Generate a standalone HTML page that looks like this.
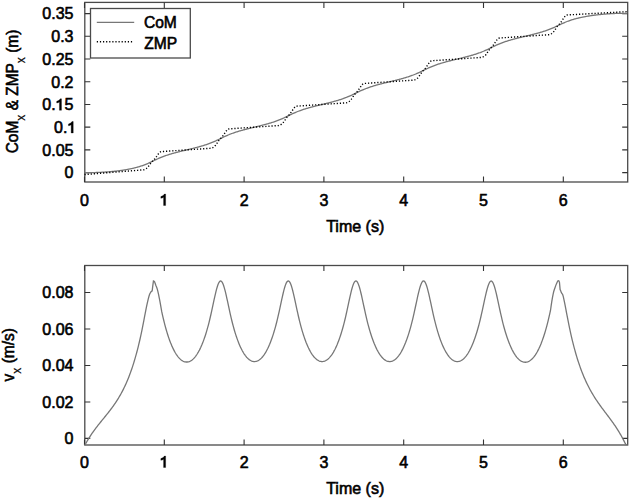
<!DOCTYPE html>
<html><head><meta charset="utf-8"><style>html,body{margin:0;padding:0;background:#fff;overflow:hidden}svg{display:block}</style></head>
<body><svg width="630" height="500" viewBox="0 0 630 500">
<rect width="630" height="500" fill="#fff"/>
<rect x="84.8" y="2.4" width="542.9000000000001" height="179.6" fill="none" stroke="#4a4a4a" stroke-width="1.3"/>
<rect x="84.8" y="265.5" width="542.9000000000001" height="179.5" fill="none" stroke="#4a4a4a" stroke-width="1.3"/>
<path d="M84.50,182.0v-5.5M84.50,2.4v5.5M84.50,445.0v-5.5M84.50,265.5v5.5M164.30,182.0v-5.5M164.30,2.4v5.5M164.30,445.0v-5.5M164.30,265.5v5.5M244.10,182.0v-5.5M244.10,2.4v5.5M244.10,445.0v-5.5M244.10,265.5v5.5M323.90,182.0v-5.5M323.90,2.4v5.5M323.90,445.0v-5.5M323.90,265.5v5.5M403.70,182.0v-5.5M403.70,2.4v5.5M403.70,445.0v-5.5M403.70,265.5v5.5M483.50,182.0v-5.5M483.50,2.4v5.5M483.50,445.0v-5.5M483.50,265.5v5.5M563.30,182.0v-5.5M563.30,2.4v5.5M563.30,445.0v-5.5M563.30,265.5v5.5M84.8,172.60h5.5M627.7,172.60h-5.5M84.8,149.88h5.5M627.7,149.88h-5.5M84.8,127.17h5.5M627.7,127.17h-5.5M84.8,104.45h5.5M627.7,104.45h-5.5M84.8,81.74h5.5M627.7,81.74h-5.5M84.8,59.02h5.5M627.7,59.02h-5.5M84.8,36.31h5.5M627.7,36.31h-5.5M84.8,13.59h5.5M627.7,13.59h-5.5M84.8,438.40h5.5M627.7,438.40h-5.5M84.8,401.93h5.5M627.7,401.93h-5.5M84.8,365.46h5.5M627.7,365.46h-5.5M84.8,328.99h5.5M627.7,328.99h-5.5M84.8,292.52h5.5M627.7,292.52h-5.5" stroke="#333" stroke-width="1.1" fill="none"/>
<path d="M84.50,172.57 L85.14,172.58 L85.78,172.59 L86.42,172.60 L87.05,172.61 L87.69,172.62 L88.33,172.62 L88.97,172.62 L89.61,172.62 L90.25,172.62 L90.88,172.61 L91.52,172.61 L92.16,172.60 L92.80,172.59 L93.44,172.58 L94.08,172.56 L94.71,172.54 L95.35,172.53 L95.99,172.51 L96.63,172.49 L97.27,172.46 L97.91,172.44 L98.54,172.41 L99.18,172.39 L99.82,172.36 L100.46,172.33 L101.10,172.29 L101.74,172.26 L102.38,172.22 L103.01,172.19 L103.65,172.15 L104.29,172.11 L104.93,172.06 L105.57,172.02 L106.21,171.98 L106.84,171.93 L107.48,171.88 L108.12,171.83 L108.76,171.78 L109.40,171.73 L110.04,171.67 L110.67,171.61 L111.31,171.56 L111.95,171.50 L112.59,171.43 L113.23,171.37 L113.87,171.31 L114.50,171.24 L115.14,171.17 L115.78,171.10 L116.42,171.03 L117.06,170.95 L117.70,170.87 L118.34,170.79 L118.97,170.71 L119.61,170.63 L120.25,170.55 L120.89,170.46 L121.53,170.37 L122.17,170.28 L122.80,170.18 L123.44,170.08 L124.08,169.98 L124.72,169.88 L125.36,169.78 L126.00,169.67 L126.63,169.56 L127.27,169.44 L127.91,169.33 L128.55,169.21 L129.19,169.08 L129.83,168.96 L130.46,168.83 L131.10,168.69 L131.74,168.56 L132.38,168.42 L133.02,168.27 L133.66,168.12 L134.30,167.97 L134.93,167.81 L135.57,167.65 L136.21,167.49 L136.85,167.31 L137.49,167.14 L138.13,166.96 L138.76,166.77 L139.40,166.58 L140.04,166.38 L140.68,166.18 L141.32,165.97 L141.96,165.76 L142.59,165.54 L143.23,165.31 L143.87,165.08 L144.51,164.84 L145.15,164.59 L145.79,164.34 L146.42,164.08 L147.06,163.81 L147.70,163.53 L148.34,163.25 L148.98,162.97 L149.62,162.68 L150.26,162.38 L150.89,162.08 L151.53,161.77 L152.17,161.47 L152.81,161.16 L153.45,160.85 L154.09,160.54 L154.72,160.23 L155.36,159.93 L156.00,159.62 L156.64,159.33 L157.28,159.03 L157.92,158.74 L158.55,158.45 L159.19,158.17 L159.83,157.90 L160.47,157.63 L161.11,157.37 L161.75,157.11 L162.38,156.86 L163.02,156.61 L163.66,156.37 L164.30,156.14 L164.94,155.91 L165.58,155.68 L166.22,155.46 L166.85,155.25 L167.49,155.03 L168.13,154.83 L168.77,154.62 L169.41,154.42 L170.05,154.23 L170.68,154.03 L171.32,153.84 L171.96,153.66 L172.60,153.47 L173.24,153.29 L173.88,153.12 L174.51,152.94 L175.15,152.77 L175.79,152.60 L176.43,152.43 L177.07,152.26 L177.71,152.09 L178.34,151.93 L178.98,151.77 L179.62,151.61 L180.26,151.45 L180.90,151.29 L181.54,151.13 L182.18,150.98 L182.81,150.82 L183.45,150.67 L184.09,150.51 L184.73,150.36 L185.37,150.20 L186.01,150.05 L186.64,149.90 L187.28,149.75 L187.92,149.59 L188.56,149.44 L189.20,149.28 L189.84,149.13 L190.47,148.98 L191.11,148.82 L191.75,148.66 L192.39,148.51 L193.03,148.35 L193.67,148.19 L194.30,148.03 L194.94,147.87 L195.58,147.70 L196.22,147.54 L196.86,147.37 L197.50,147.20 L198.14,147.03 L198.77,146.86 L199.41,146.68 L200.05,146.50 L200.69,146.32 L201.33,146.14 L201.97,145.95 L202.60,145.76 L203.24,145.57 L203.88,145.37 L204.52,145.17 L205.16,144.97 L205.80,144.76 L206.43,144.55 L207.07,144.33 L207.71,144.11 L208.35,143.89 L208.99,143.66 L209.63,143.42 L210.26,143.18 L210.90,142.94 L211.54,142.69 L212.18,142.43 L212.82,142.16 L213.46,141.89 L214.10,141.62 L214.73,141.34 L215.37,141.05 L216.01,140.76 L216.65,140.46 L217.29,140.16 L217.93,139.85 L218.56,139.54 L219.20,139.23 L219.84,138.91 L220.48,138.60 L221.12,138.28 L221.76,137.97 L222.39,137.65 L223.03,137.34 L223.67,137.03 L224.31,136.73 L224.95,136.43 L225.59,136.13 L226.22,135.84 L226.86,135.56 L227.50,135.28 L228.14,135.01 L228.78,134.74 L229.42,134.48 L230.06,134.23 L230.69,133.98 L231.33,133.73 L231.97,133.50 L232.61,133.26 L233.25,133.04 L233.89,132.81 L234.52,132.60 L235.16,132.38 L235.80,132.17 L236.44,131.97 L237.08,131.76 L237.72,131.57 L238.35,131.37 L238.99,131.18 L239.63,130.99 L240.27,130.81 L240.91,130.62 L241.55,130.44 L242.18,130.27 L242.82,130.09 L243.46,129.92 L244.10,129.75 L244.74,129.58 L245.38,129.41 L246.02,129.25 L246.65,129.08 L247.29,128.92 L247.93,128.76 L248.57,128.60 L249.21,128.44 L249.85,128.29 L250.48,128.13 L251.12,127.97 L251.76,127.82 L252.40,127.66 L253.04,127.51 L253.68,127.35 L254.31,127.20 L254.95,127.05 L255.59,126.89 L256.23,126.74 L256.87,126.58 L257.51,126.43 L258.14,126.27 L258.78,126.12 L259.42,125.96 L260.06,125.80 L260.70,125.64 L261.34,125.48 L261.98,125.32 L262.61,125.16 L263.25,124.99 L263.89,124.83 L264.53,124.66 L265.17,124.49 L265.81,124.32 L266.44,124.14 L267.08,123.97 L267.72,123.79 L268.36,123.61 L269.00,123.42 L269.64,123.24 L270.27,123.05 L270.91,122.85 L271.55,122.66 L272.19,122.46 L272.83,122.25 L273.47,122.04 L274.10,121.83 L274.74,121.61 L275.38,121.39 L276.02,121.17 L276.66,120.94 L277.30,120.70 L277.94,120.46 L278.57,120.21 L279.21,119.96 L279.85,119.70 L280.49,119.44 L281.13,119.17 L281.77,118.89 L282.40,118.61 L283.04,118.32 L283.68,118.03 L284.32,117.73 L284.96,117.43 L285.60,117.12 L286.23,116.81 L286.87,116.50 L287.51,116.18 L288.15,115.87 L288.79,115.55 L289.43,115.24 L290.06,114.92 L290.70,114.61 L291.34,114.30 L291.98,114.00 L292.62,113.70 L293.26,113.40 L293.90,113.11 L294.53,112.83 L295.17,112.55 L295.81,112.28 L296.45,112.01 L297.09,111.75 L297.73,111.50 L298.36,111.25 L299.00,111.01 L299.64,110.77 L300.28,110.54 L300.92,110.31 L301.56,110.09 L302.19,109.87 L302.83,109.66 L303.47,109.45 L304.11,109.24 L304.75,109.04 L305.39,108.84 L306.02,108.65 L306.66,108.45 L307.30,108.27 L307.94,108.08 L308.58,107.90 L309.22,107.72 L309.86,107.54 L310.49,107.37 L311.13,107.19 L311.77,107.02 L312.41,106.85 L313.05,106.69 L313.69,106.52 L314.32,106.36 L314.96,106.20 L315.60,106.04 L316.24,105.88 L316.88,105.72 L317.52,105.56 L318.15,105.41 L318.79,105.25 L319.43,105.09 L320.07,104.94 L320.71,104.79 L321.35,104.63 L321.98,104.48 L322.62,104.32 L323.26,104.17 L323.90,104.01 L324.54,103.86 L325.18,103.70 L325.82,103.55 L326.45,103.39 L327.09,103.24 L327.73,103.08 L328.37,102.92 L329.01,102.76 L329.65,102.60 L330.28,102.43 L330.92,102.27 L331.56,102.10 L332.20,101.94 L332.84,101.77 L333.48,101.59 L334.11,101.42 L334.75,101.24 L335.39,101.06 L336.03,100.88 L336.67,100.70 L337.31,100.51 L337.94,100.32 L338.58,100.13 L339.22,99.93 L339.86,99.73 L340.50,99.52 L341.14,99.31 L341.78,99.10 L342.41,98.89 L343.05,98.66 L343.69,98.44 L344.33,98.21 L344.97,97.97 L345.61,97.73 L346.24,97.48 L346.88,97.23 L347.52,96.97 L348.16,96.71 L348.80,96.44 L349.44,96.16 L350.07,95.88 L350.71,95.59 L351.35,95.30 L351.99,95.00 L352.63,94.70 L353.27,94.39 L353.90,94.08 L354.54,93.76 L355.18,93.45 L355.82,93.13 L356.46,92.82 L357.10,92.50 L357.74,92.19 L358.37,91.88 L359.01,91.57 L359.65,91.26 L360.29,90.96 L360.93,90.67 L361.57,90.38 L362.20,90.10 L362.84,89.82 L363.48,89.55 L364.12,89.28 L364.76,89.02 L365.40,88.77 L366.03,88.52 L366.67,88.28 L367.31,88.04 L367.95,87.81 L368.59,87.58 L369.23,87.36 L369.86,87.14 L370.50,86.93 L371.14,86.72 L371.78,86.51 L372.42,86.31 L373.06,86.11 L373.70,85.92 L374.33,85.73 L374.97,85.54 L375.61,85.35 L376.25,85.17 L376.89,84.99 L377.53,84.82 L378.16,84.64 L378.80,84.47 L379.44,84.30 L380.08,84.13 L380.72,83.96 L381.36,83.80 L381.99,83.63 L382.63,83.47 L383.27,83.31 L383.91,83.15 L384.55,82.99 L385.19,82.84 L385.82,82.68 L386.46,82.52 L387.10,82.37 L387.74,82.21 L388.38,82.06 L389.02,81.91 L389.66,81.75 L390.29,81.60 L390.93,81.44 L391.57,81.29 L392.21,81.14 L392.85,80.98 L393.49,80.82 L394.12,80.67 L394.76,80.51 L395.40,80.35 L396.04,80.19 L396.68,80.03 L397.32,79.87 L397.95,79.71 L398.59,79.54 L399.23,79.38 L399.87,79.21 L400.51,79.04 L401.15,78.87 L401.78,78.69 L402.42,78.52 L403.06,78.34 L403.70,78.16 L404.34,77.97 L404.98,77.78 L405.62,77.59 L406.25,77.40 L406.89,77.20 L407.53,77.00 L408.17,76.80 L408.81,76.59 L409.45,76.37 L410.08,76.16 L410.72,75.94 L411.36,75.71 L412.00,75.48 L412.64,75.24 L413.28,75.00 L413.91,74.75 L414.55,74.50 L415.19,74.24 L415.83,73.98 L416.47,73.71 L417.11,73.43 L417.74,73.15 L418.38,72.86 L419.02,72.56 L419.66,72.26 L420.30,71.96 L420.94,71.65 L421.58,71.34 L422.21,71.03 L422.85,70.71 L423.49,70.40 L424.13,70.08 L424.77,69.77 L425.41,69.45 L426.04,69.14 L426.68,68.83 L427.32,68.53 L427.96,68.23 L428.60,67.94 L429.24,67.65 L429.87,67.36 L430.51,67.09 L431.15,66.82 L431.79,66.55 L432.43,66.29 L433.07,66.04 L433.70,65.79 L434.34,65.55 L434.98,65.31 L435.62,65.08 L436.26,64.85 L436.90,64.63 L437.54,64.41 L438.17,64.20 L438.81,63.99 L439.45,63.79 L440.09,63.58 L440.73,63.39 L441.37,63.19 L442.00,63.00 L442.64,62.81 L443.28,62.63 L443.92,62.45 L444.56,62.27 L445.20,62.09 L445.83,61.92 L446.47,61.74 L447.11,61.57 L447.75,61.40 L448.39,61.24 L449.03,61.07 L449.66,60.91 L450.30,60.75 L450.94,60.59 L451.58,60.43 L452.22,60.27 L452.86,60.11 L453.50,59.96 L454.13,59.80 L454.77,59.65 L455.41,59.49 L456.05,59.34 L456.69,59.18 L457.33,59.03 L457.96,58.87 L458.60,58.72 L459.24,58.57 L459.88,58.41 L460.52,58.26 L461.16,58.10 L461.79,57.94 L462.43,57.79 L463.07,57.63 L463.71,57.47 L464.35,57.31 L464.99,57.15 L465.62,56.98 L466.26,56.82 L466.90,56.65 L467.54,56.49 L468.18,56.32 L468.82,56.14 L469.46,55.97 L470.09,55.79 L470.73,55.61 L471.37,55.43 L472.01,55.25 L472.65,55.06 L473.29,54.87 L473.92,54.67 L474.56,54.48 L475.20,54.28 L475.84,54.07 L476.48,53.86 L477.12,53.65 L477.75,53.43 L478.39,53.21 L479.03,52.98 L479.67,52.75 L480.31,52.52 L480.95,52.27 L481.58,52.03 L482.22,51.77 L482.86,51.51 L483.50,51.25 L484.14,50.98 L484.78,50.70 L485.42,50.42 L486.05,50.13 L486.69,49.84 L487.33,49.54 L487.97,49.23 L488.61,48.93 L489.25,48.61 L489.88,48.30 L490.52,47.99 L491.16,47.67 L491.80,47.35 L492.44,47.04 L493.08,46.73 L493.71,46.42 L494.35,46.11 L494.99,45.80 L495.63,45.51 L496.27,45.21 L496.91,44.92 L497.54,44.64 L498.18,44.36 L498.82,44.09 L499.46,43.83 L500.10,43.57 L500.74,43.32 L501.38,43.07 L502.01,42.83 L502.65,42.59 L503.29,42.36 L503.93,42.14 L504.57,41.91 L505.21,41.70 L505.84,41.49 L506.48,41.28 L507.12,41.07 L507.76,40.87 L508.40,40.68 L509.04,40.48 L509.67,40.29 L510.31,40.10 L510.95,39.92 L511.59,39.74 L512.23,39.56 L512.87,39.38 L513.50,39.21 L514.14,39.04 L514.78,38.87 L515.42,38.70 L516.06,38.54 L516.70,38.37 L517.34,38.21 L517.97,38.05 L518.61,37.89 L519.25,37.73 L519.89,37.58 L520.53,37.42 L521.17,37.26 L521.80,37.11 L522.44,36.96 L523.08,36.80 L523.72,36.65 L524.36,36.50 L525.00,36.34 L525.63,36.19 L526.27,36.04 L526.91,35.89 L527.55,35.73 L528.19,35.58 L528.83,35.42 L529.46,35.27 L530.10,35.11 L530.74,34.96 L531.38,34.80 L532.02,34.64 L532.66,34.48 L533.30,34.32 L533.93,34.16 L534.57,33.99 L535.21,33.83 L535.85,33.66 L536.49,33.49 L537.13,33.32 L537.76,33.14 L538.40,32.97 L539.04,32.79 L539.68,32.61 L540.32,32.42 L540.96,32.23 L541.59,32.04 L542.23,31.85 L542.87,31.65 L543.51,31.45 L544.15,31.24 L544.79,31.03 L545.42,30.82 L546.06,30.60 L546.70,30.38 L547.34,30.15 L547.98,29.92 L548.62,29.68 L549.26,29.44 L549.89,29.19 L550.53,28.94 L551.17,28.68 L551.81,28.41 L552.45,28.14 L553.09,27.86 L553.72,27.58 L554.36,27.29 L555.00,27.00 L555.64,26.70 L556.28,26.40 L556.92,26.10 L557.55,25.79 L558.19,25.49 L558.83,25.18 L559.47,24.87 L560.11,24.57 L560.75,24.26 L561.38,23.96 L562.02,23.67 L562.66,23.37 L563.30,23.09 L563.94,22.81 L564.58,22.53 L565.22,22.26 L565.85,22.00 L566.49,21.74 L567.13,21.49 L567.77,21.25 L568.41,21.02 L569.05,20.79 L569.68,20.56 L570.32,20.35 L570.96,20.14 L571.60,19.93 L572.24,19.73 L572.88,19.54 L573.51,19.35 L574.15,19.16 L574.79,18.98 L575.43,18.81 L576.07,18.64 L576.71,18.47 L577.34,18.31 L577.98,18.15 L578.62,18.00 L579.26,17.85 L579.90,17.70 L580.54,17.56 L581.18,17.42 L581.81,17.28 L582.45,17.15 L583.09,17.02 L583.73,16.90 L584.37,16.78 L585.01,16.66 L585.64,16.54 L586.28,16.43 L586.92,16.31 L587.56,16.21 L588.20,16.10 L588.84,16.00 L589.47,15.90 L590.11,15.80 L590.75,15.70 L591.39,15.61 L592.03,15.52 L592.67,15.43 L593.30,15.34 L593.94,15.25 L594.58,15.17 L595.22,15.09 L595.86,15.01 L596.50,14.93 L597.14,14.86 L597.77,14.79 L598.41,14.71 L599.05,14.64 L599.69,14.58 L600.33,14.51 L600.97,14.45 L601.60,14.38 L602.24,14.32 L602.88,14.27 L603.52,14.21 L604.16,14.15 L604.80,14.10 L605.43,14.05 L606.07,14.00 L606.71,13.95 L607.35,13.90 L607.99,13.86 L608.63,13.81 L609.26,13.77 L609.90,13.73 L610.54,13.69 L611.18,13.66 L611.82,13.62 L612.46,13.59 L613.10,13.56 L613.73,13.53 L614.37,13.50 L615.01,13.47 L615.65,13.45 L616.29,13.43 L616.93,13.41 L617.56,13.39 L618.20,13.38 L618.84,13.36 L619.48,13.35 L620.12,13.34 L620.76,13.33 L621.39,13.33 L622.03,13.32 L622.67,13.32 L623.31,13.33 L623.95,13.33 L624.59,13.34 L625.22,13.35 L625.86,13.36 L626.50,13.37 L627.14,13.39 L627.38,13.40" stroke="#777" stroke-width="1.3" fill="none"/>
<path d="M84.50,174.55 L85.14,174.50 L85.78,174.45 L86.42,174.39 L87.05,174.34 L87.69,174.29 L88.33,174.24 L88.97,174.19 L89.61,174.14 L90.25,174.09 L90.88,174.04 L91.52,173.99 L92.16,173.94 L92.80,173.89 L93.44,173.84 L94.08,173.78 L94.71,173.73 L95.35,173.68 L95.99,173.63 L96.63,173.58 L97.27,173.53 L97.91,173.48 L98.54,173.43 L99.18,173.38 L99.82,173.33 L100.46,173.28 L101.10,173.23 L101.74,173.17 L102.38,173.12 L103.01,173.07 L103.65,173.02 L104.29,172.97 L104.93,172.92 L105.57,172.87 L106.21,172.82 L106.84,172.77 L107.48,172.72 L108.12,172.67 L108.76,172.62 L109.40,172.56 L110.04,172.51 L110.67,172.46 L111.31,172.41 L111.95,172.36 L112.59,172.31 L113.23,172.26 L113.87,172.21 L114.50,172.16 L115.14,172.11 L115.78,172.06 L116.42,172.01 L117.06,171.95 L117.70,171.90 L118.34,171.85 L118.97,171.80 L119.61,171.75 L120.25,171.70 L120.89,171.65 L121.53,171.60 L122.17,171.55 L122.80,171.50 L123.44,171.45 L124.08,171.39 L124.72,171.34 L125.36,171.29 L126.00,171.24 L126.63,171.19 L127.27,171.14 L127.91,171.09 L128.55,171.04 L129.19,170.99 L129.83,170.94 L130.46,170.89 L131.10,170.84 L131.74,170.78 L132.38,170.73 L133.02,170.68 L133.66,170.63 L134.30,170.58 L134.93,170.53 L135.57,170.48 L136.21,170.43 L136.85,170.38 L137.49,170.33 L138.13,170.28 L138.76,170.23 L139.40,170.17 L140.04,170.12 L140.68,170.07 L141.32,170.02 L141.96,169.97 L142.59,169.92 L143.23,169.86 L143.87,169.74 L144.51,169.54 L145.15,169.26 L145.79,168.90 L146.42,168.48 L147.06,168.00 L147.70,167.35 L148.34,166.53 L148.98,165.63 L149.62,164.76 L150.26,163.87 L150.89,162.96 L151.53,162.11 L152.17,161.40 L152.81,160.80 L153.45,160.23 L154.09,159.60 L154.72,158.85 L155.36,158.03 L156.00,157.17 L156.64,156.31 L157.28,155.38 L157.92,154.45 L158.55,153.63 L159.19,152.84 L159.83,152.20 L160.47,151.88 L161.11,151.67 L161.75,151.54 L162.38,151.50 L163.02,151.48 L163.66,151.44 L164.30,151.39 L164.94,151.35 L165.58,151.31 L166.22,151.27 L166.85,151.22 L167.49,151.18 L168.13,151.14 L168.77,151.10 L169.41,151.05 L170.05,151.01 L170.68,150.97 L171.32,150.92 L171.96,150.88 L172.60,150.84 L173.24,150.80 L173.88,150.75 L174.51,150.71 L175.15,150.67 L175.79,150.62 L176.43,150.58 L177.07,150.54 L177.71,150.50 L178.34,150.45 L178.98,150.41 L179.62,150.37 L180.26,150.32 L180.90,150.28 L181.54,150.24 L182.18,150.20 L182.81,150.15 L183.45,150.11 L184.09,150.07 L184.73,150.02 L185.37,149.98 L186.01,149.94 L186.64,149.90 L187.28,149.85 L187.92,149.81 L188.56,149.77 L189.20,149.73 L189.84,149.68 L190.47,149.64 L191.11,149.60 L191.75,149.55 L192.39,149.51 L193.03,149.47 L193.67,149.43 L194.30,149.38 L194.94,149.34 L195.58,149.30 L196.22,149.25 L196.86,149.21 L197.50,149.17 L198.14,149.13 L198.77,149.08 L199.41,149.04 L200.05,149.00 L200.69,148.95 L201.33,148.91 L201.97,148.87 L202.60,148.83 L203.24,148.78 L203.88,148.74 L204.52,148.70 L205.16,148.66 L205.80,148.61 L206.43,148.57 L207.07,148.53 L207.71,148.48 L208.35,148.44 L208.99,148.40 L209.63,148.36 L210.26,148.31 L210.90,148.25 L211.54,148.12 L212.18,147.91 L212.82,147.60 L213.46,147.21 L214.10,146.76 L214.73,146.25 L215.37,145.55 L216.01,144.66 L216.65,143.71 L217.29,142.80 L217.93,141.85 L218.56,140.88 L219.20,139.98 L219.84,139.24 L220.48,138.61 L221.12,138.01 L221.76,137.33 L222.39,136.53 L223.03,135.66 L223.67,134.75 L224.31,133.82 L224.95,132.84 L225.59,131.86 L226.22,130.99 L226.86,130.16 L227.50,129.49 L228.14,129.18 L228.78,128.96 L229.42,128.83 L230.06,128.78 L230.69,128.76 L231.33,128.72 L231.97,128.68 L232.61,128.63 L233.25,128.59 L233.89,128.55 L234.52,128.51 L235.16,128.46 L235.80,128.42 L236.44,128.38 L237.08,128.33 L237.72,128.29 L238.35,128.25 L238.99,128.21 L239.63,128.16 L240.27,128.12 L240.91,128.08 L241.55,128.04 L242.18,127.99 L242.82,127.95 L243.46,127.91 L244.10,127.86 L244.74,127.82 L245.38,127.78 L246.02,127.74 L246.65,127.69 L247.29,127.65 L247.93,127.61 L248.57,127.56 L249.21,127.52 L249.85,127.48 L250.48,127.44 L251.12,127.39 L251.76,127.35 L252.40,127.31 L253.04,127.26 L253.68,127.22 L254.31,127.18 L254.95,127.14 L255.59,127.09 L256.23,127.05 L256.87,127.01 L257.51,126.96 L258.14,126.92 L258.78,126.88 L259.42,126.84 L260.06,126.79 L260.70,126.75 L261.34,126.71 L261.98,126.67 L262.61,126.62 L263.25,126.58 L263.89,126.54 L264.53,126.49 L265.17,126.45 L265.81,126.41 L266.44,126.37 L267.08,126.32 L267.72,126.28 L268.36,126.24 L269.00,126.19 L269.64,126.15 L270.27,126.11 L270.91,126.07 L271.55,126.02 L272.19,125.98 L272.83,125.94 L273.47,125.89 L274.10,125.85 L274.74,125.81 L275.38,125.77 L276.02,125.72 L276.66,125.68 L277.30,125.64 L277.94,125.59 L278.57,125.53 L279.21,125.39 L279.85,125.17 L280.49,124.86 L281.13,124.47 L281.77,124.01 L282.40,123.50 L283.04,122.78 L283.68,121.89 L284.32,120.94 L284.96,120.03 L285.60,119.07 L286.23,118.10 L286.87,117.22 L287.51,116.48 L288.15,115.86 L288.79,115.25 L289.43,114.56 L290.06,113.76 L290.70,112.88 L291.34,111.97 L291.98,111.05 L292.62,110.06 L293.26,109.08 L293.90,108.22 L294.53,107.39 L295.17,106.75 L295.81,106.44 L296.45,106.23 L297.09,106.11 L297.73,106.07 L298.36,106.05 L299.00,106.00 L299.64,105.96 L300.28,105.92 L300.92,105.87 L301.56,105.83 L302.19,105.79 L302.83,105.75 L303.47,105.70 L304.11,105.66 L304.75,105.62 L305.39,105.57 L306.02,105.53 L306.66,105.49 L307.30,105.45 L307.94,105.40 L308.58,105.36 L309.22,105.32 L309.86,105.27 L310.49,105.23 L311.13,105.19 L311.77,105.15 L312.41,105.10 L313.05,105.06 L313.69,105.02 L314.32,104.97 L314.96,104.93 L315.60,104.89 L316.24,104.85 L316.88,104.80 L317.52,104.76 L318.15,104.72 L318.79,104.68 L319.43,104.63 L320.07,104.59 L320.71,104.55 L321.35,104.50 L321.98,104.46 L322.62,104.42 L323.26,104.38 L323.90,104.33 L324.54,104.29 L325.18,104.25 L325.82,104.20 L326.45,104.16 L327.09,104.12 L327.73,104.08 L328.37,104.03 L329.01,103.99 L329.65,103.95 L330.28,103.90 L330.92,103.86 L331.56,103.82 L332.20,103.78 L332.84,103.73 L333.48,103.69 L334.11,103.65 L334.75,103.60 L335.39,103.56 L336.03,103.52 L336.67,103.48 L337.31,103.43 L337.94,103.39 L338.58,103.35 L339.22,103.31 L339.86,103.26 L340.50,103.22 L341.14,103.18 L341.78,103.13 L342.41,103.09 L343.05,103.05 L343.69,103.01 L344.33,102.96 L344.97,102.92 L345.61,102.88 L346.24,102.81 L346.88,102.67 L347.52,102.44 L348.16,102.13 L348.80,101.73 L349.44,101.27 L350.07,100.74 L350.71,100.01 L351.35,99.12 L351.99,98.16 L352.63,97.25 L353.27,96.29 L353.90,95.33 L354.54,94.45 L355.18,93.73 L355.82,93.11 L356.46,92.50 L357.10,91.80 L357.74,90.99 L358.37,90.11 L359.01,89.20 L359.65,88.27 L360.29,87.28 L360.93,86.31 L361.57,85.46 L362.20,84.63 L362.84,84.01 L363.48,83.71 L364.12,83.50 L364.76,83.39 L365.40,83.35 L366.03,83.33 L366.67,83.28 L367.31,83.24 L367.95,83.20 L368.59,83.16 L369.23,83.11 L369.86,83.07 L370.50,83.03 L371.14,82.98 L371.78,82.94 L372.42,82.90 L373.06,82.86 L373.70,82.81 L374.33,82.77 L374.97,82.73 L375.61,82.69 L376.25,82.64 L376.89,82.60 L377.53,82.56 L378.16,82.51 L378.80,82.47 L379.44,82.43 L380.08,82.39 L380.72,82.34 L381.36,82.30 L381.99,82.26 L382.63,82.21 L383.27,82.17 L383.91,82.13 L384.55,82.09 L385.19,82.04 L385.82,82.00 L386.46,81.96 L387.10,81.91 L387.74,81.87 L388.38,81.83 L389.02,81.79 L389.66,81.74 L390.29,81.70 L390.93,81.66 L391.57,81.62 L392.21,81.57 L392.85,81.53 L393.49,81.49 L394.12,81.44 L394.76,81.40 L395.40,81.36 L396.04,81.32 L396.68,81.27 L397.32,81.23 L397.95,81.19 L398.59,81.14 L399.23,81.10 L399.87,81.06 L400.51,81.02 L401.15,80.97 L401.78,80.93 L402.42,80.89 L403.06,80.84 L403.70,80.80 L404.34,80.76 L404.98,80.72 L405.62,80.67 L406.25,80.63 L406.89,80.59 L407.53,80.54 L408.17,80.50 L408.81,80.46 L409.45,80.42 L410.08,80.37 L410.72,80.33 L411.36,80.29 L412.00,80.25 L412.64,80.20 L413.28,80.16 L413.91,80.09 L414.55,79.94 L415.19,79.71 L415.83,79.39 L416.47,78.99 L417.11,78.52 L417.74,77.99 L418.38,77.25 L419.02,76.34 L419.66,75.39 L420.30,74.48 L420.94,73.52 L421.58,72.56 L422.21,71.69 L422.85,70.97 L423.49,70.36 L424.13,69.74 L424.77,69.04 L425.41,68.22 L426.04,67.34 L426.68,66.43 L427.32,65.50 L427.96,64.50 L428.60,63.54 L429.24,62.69 L429.87,61.87 L430.51,61.27 L431.15,60.98 L431.79,60.78 L432.43,60.67 L433.07,60.63 L433.70,60.61 L434.34,60.57 L434.98,60.52 L435.62,60.48 L436.26,60.44 L436.90,60.40 L437.54,60.35 L438.17,60.31 L438.81,60.27 L439.45,60.22 L440.09,60.18 L440.73,60.14 L441.37,60.10 L442.00,60.05 L442.64,60.01 L443.28,59.97 L443.92,59.92 L444.56,59.88 L445.20,59.84 L445.83,59.80 L446.47,59.75 L447.11,59.71 L447.75,59.67 L448.39,59.63 L449.03,59.58 L449.66,59.54 L450.30,59.50 L450.94,59.45 L451.58,59.41 L452.22,59.37 L452.86,59.33 L453.50,59.28 L454.13,59.24 L454.77,59.20 L455.41,59.15 L456.05,59.11 L456.69,59.07 L457.33,59.03 L457.96,58.98 L458.60,58.94 L459.24,58.90 L459.88,58.85 L460.52,58.81 L461.16,58.77 L461.79,58.73 L462.43,58.68 L463.07,58.64 L463.71,58.60 L464.35,58.55 L464.99,58.51 L465.62,58.47 L466.26,58.43 L466.90,58.38 L467.54,58.34 L468.18,58.30 L468.82,58.26 L469.46,58.21 L470.09,58.17 L470.73,58.13 L471.37,58.08 L472.01,58.04 L472.65,58.00 L473.29,57.96 L473.92,57.91 L474.56,57.87 L475.20,57.83 L475.84,57.78 L476.48,57.74 L477.12,57.70 L477.75,57.66 L478.39,57.61 L479.03,57.57 L479.67,57.53 L480.31,57.48 L480.95,57.44 L481.58,57.37 L482.22,57.21 L482.86,56.98 L483.50,56.65 L484.14,56.25 L484.78,55.78 L485.42,55.24 L486.05,54.48 L486.69,53.57 L487.33,52.62 L487.97,51.71 L488.61,50.74 L489.25,49.78 L489.88,48.92 L490.52,48.22 L491.16,47.60 L491.80,46.99 L492.44,46.28 L493.08,45.46 L493.71,44.57 L494.35,43.66 L494.99,42.72 L495.63,41.73 L496.27,40.77 L496.91,39.92 L497.54,39.10 L498.18,38.53 L498.82,38.25 L499.46,38.05 L500.10,37.95 L500.74,37.92 L501.38,37.89 L502.01,37.85 L502.65,37.81 L503.29,37.76 L503.93,37.72 L504.57,37.68 L505.21,37.64 L505.84,37.59 L506.48,37.55 L507.12,37.51 L507.76,37.46 L508.40,37.42 L509.04,37.38 L509.67,37.34 L510.31,37.29 L510.95,37.25 L511.59,37.21 L512.23,37.16 L512.87,37.12 L513.50,37.08 L514.14,37.04 L514.78,36.99 L515.42,36.95 L516.06,36.91 L516.70,36.86 L517.34,36.82 L517.97,36.78 L518.61,36.74 L519.25,36.69 L519.89,36.65 L520.53,36.61 L521.17,36.56 L521.80,36.52 L522.44,36.48 L523.08,36.44 L523.72,36.39 L524.36,36.35 L525.00,36.31 L525.63,36.27 L526.27,36.22 L526.91,36.18 L527.55,36.14 L528.19,36.09 L528.83,36.05 L529.46,36.01 L530.10,35.97 L530.74,35.92 L531.38,35.88 L532.02,35.84 L532.66,35.79 L533.30,35.75 L533.93,35.71 L534.57,35.67 L535.21,35.62 L535.85,35.58 L536.49,35.54 L537.13,35.49 L537.76,35.45 L538.40,35.41 L539.04,35.37 L539.68,35.32 L540.32,35.28 L540.96,35.24 L541.59,35.20 L542.23,35.15 L542.87,35.11 L543.51,35.07 L544.15,35.02 L544.79,34.98 L545.42,34.94 L546.06,34.90 L546.70,34.85 L547.34,34.81 L547.98,34.77 L548.62,34.72 L549.26,34.64 L549.89,34.48 L550.53,34.24 L551.17,33.90 L551.81,33.48 L552.45,33.00 L553.09,32.44 L553.72,31.66 L554.36,30.73 L555.00,29.76 L555.64,28.84 L556.28,27.85 L556.92,26.88 L557.55,26.02 L558.19,25.31 L558.83,24.69 L559.47,24.06 L560.11,23.33 L560.75,22.49 L561.38,21.58 L562.02,20.66 L562.66,19.70 L563.30,18.69 L563.94,17.72 L564.58,16.86 L565.22,16.04 L565.85,15.48 L566.49,15.21 L567.13,15.01 L567.77,14.91 L568.41,14.88 L569.05,14.85 L569.68,14.82 L570.32,14.78 L570.96,14.75 L571.60,14.71 L572.24,14.68 L572.88,14.64 L573.51,14.60 L574.15,14.57 L574.79,14.53 L575.43,14.50 L576.07,14.46 L576.71,14.43 L577.34,14.39 L577.98,14.36 L578.62,14.32 L579.26,14.28 L579.90,14.25 L580.54,14.21 L581.18,14.18 L581.81,14.14 L582.45,14.11 L583.09,14.07 L583.73,14.04 L584.37,14.00 L585.01,13.96 L585.64,13.93 L586.28,13.89 L586.92,13.86 L587.56,13.82 L588.20,13.79 L588.84,13.75 L589.47,13.72 L590.11,13.68 L590.75,13.64 L591.39,13.61 L592.03,13.57 L592.67,13.54 L593.30,13.50 L593.94,13.47 L594.58,13.43 L595.22,13.40 L595.86,13.36 L596.50,13.32 L597.14,13.29 L597.77,13.25 L598.41,13.22 L599.05,13.18 L599.69,13.15 L600.33,13.11 L600.97,13.08 L601.60,13.04 L602.24,13.00 L602.88,12.97 L603.52,12.93 L604.16,12.90 L604.80,12.86 L605.43,12.83 L606.07,12.79 L606.71,12.76 L607.35,12.72 L607.99,12.68 L608.63,12.65 L609.26,12.61 L609.90,12.58 L610.54,12.54 L611.18,12.51 L611.82,12.47 L612.46,12.44 L613.10,12.40 L613.73,12.36 L614.37,12.33 L615.01,12.29 L615.65,12.26 L616.29,12.22 L616.93,12.19 L617.56,12.15 L618.20,12.12 L618.84,12.08 L619.48,12.04 L620.12,12.01 L620.76,11.97 L621.39,11.94 L622.03,11.90 L622.67,11.87 L623.31,11.83 L623.95,11.80 L624.59,11.76 L625.22,11.72 L625.86,11.69 L626.50,11.65 L627.14,11.62 L627.38,11.60" stroke="#000" stroke-width="1.4" stroke-dasharray="1.2 1.9" fill="none"/>
<path d="M84.50,444.60 L85.14,444.60 L85.78,443.53 L86.42,442.39 L87.05,441.28 L87.69,440.19 L88.33,439.13 L88.97,438.10 L89.61,437.08 L90.25,436.09 L90.88,435.12 L91.52,434.17 L92.16,433.23 L92.80,432.32 L93.44,431.42 L94.08,430.53 L94.71,429.66 L95.35,428.80 L95.99,427.95 L96.63,427.11 L97.27,426.28 L97.91,425.46 L98.54,424.65 L99.18,423.85 L99.82,423.05 L100.46,422.26 L101.10,421.47 L101.74,420.68 L102.38,419.90 L103.01,419.11 L103.65,418.33 L104.29,417.55 L104.93,416.77 L105.57,415.98 L106.21,415.19 L106.84,414.40 L107.48,413.60 L108.12,412.80 L108.76,411.99 L109.40,411.17 L110.04,410.34 L110.67,409.50 L111.31,408.66 L111.95,407.80 L112.59,406.92 L113.23,406.04 L113.87,405.14 L114.50,404.22 L115.14,403.29 L115.78,402.34 L116.42,401.37 L117.06,400.38 L117.70,399.37 L118.34,398.33 L118.97,397.28 L119.61,396.19 L120.25,395.08 L120.89,393.95 L121.53,392.78 L122.17,391.59 L122.80,390.36 L123.44,389.10 L124.08,387.81 L124.72,386.48 L125.36,385.11 L126.00,383.71 L126.63,382.26 L127.27,380.77 L127.91,379.24 L128.55,377.66 L129.19,376.03 L129.83,374.35 L130.46,372.63 L131.10,370.84 L131.74,369.01 L132.38,367.11 L133.02,365.16 L133.66,363.14 L134.30,361.06 L134.93,358.91 L135.57,356.69 L136.21,354.40 L136.85,352.03 L137.49,349.59 L138.13,347.07 L138.76,344.46 L139.40,341.77 L140.04,338.99 L140.68,336.11 L141.32,333.13 L141.96,330.05 L142.59,326.88 L143.23,323.63 L143.87,320.30 L144.51,316.92 L145.15,313.57 L145.79,310.31 L146.42,307.16 L147.06,304.15 L147.70,301.31 L148.34,298.67 L148.98,296.28 L149.62,294.34 L150.26,292.97 L150.89,291.98 L151.53,291.32 L152.17,290.93 L152.81,285.68 L153.45,280.94 L154.09,281.25 L154.72,282.14 L155.36,284.11 L156.00,285.73 L156.64,287.25 L157.28,289.16 L157.92,291.63 L158.55,294.44 L159.19,297.55 L159.83,300.91 L160.47,304.48 L161.11,308.23 L161.75,311.72 L162.38,314.56 L163.02,317.33 L163.66,320.02 L164.30,322.61 L164.94,325.10 L165.58,327.47 L166.22,329.74 L166.85,331.90 L167.49,333.98 L168.13,335.97 L168.77,337.86 L169.41,339.68 L170.05,341.41 L170.68,343.06 L171.32,344.62 L171.96,346.12 L172.60,347.53 L173.24,348.87 L173.88,350.14 L174.51,351.34 L175.15,352.47 L175.79,353.53 L176.43,354.53 L177.07,355.45 L177.71,356.32 L178.34,357.12 L178.98,357.85 L179.62,358.53 L180.26,359.14 L180.90,359.69 L181.54,360.18 L182.18,360.62 L182.81,360.99 L183.45,361.31 L184.09,361.56 L184.73,361.76 L185.37,361.91 L186.01,361.99 L186.64,362.02 L187.28,361.99 L187.92,361.90 L188.56,361.76 L189.20,361.56 L189.84,361.30 L190.47,360.98 L191.11,360.61 L191.75,360.17 L192.39,359.68 L193.03,359.12 L193.67,358.51 L194.30,357.84 L194.94,357.10 L195.58,356.30 L196.22,355.43 L196.86,354.50 L197.50,353.51 L198.14,352.45 L198.77,351.31 L199.41,350.11 L200.05,348.84 L200.69,347.50 L201.33,346.08 L201.97,344.59 L202.60,343.02 L203.24,341.37 L203.88,339.63 L204.52,337.82 L205.16,335.92 L205.80,333.93 L206.43,331.85 L207.07,329.68 L207.71,327.42 L208.35,325.05 L208.99,322.56 L209.63,319.97 L210.26,317.27 L210.90,314.48 L211.54,311.60 L212.18,308.67 L212.82,305.69 L213.46,302.70 L214.10,299.73 L214.73,296.82 L215.37,294.02 L216.01,291.37 L216.65,288.92 L217.29,286.72 L217.93,284.82 L218.56,283.27 L219.20,282.10 L219.84,281.34 L220.48,281.01 L221.12,281.12 L221.76,281.67 L222.39,282.65 L223.03,284.02 L223.67,285.75 L224.31,287.81 L224.95,290.14 L225.59,292.70 L226.22,295.43 L226.86,298.29 L227.50,301.23 L228.14,304.20 L228.78,307.18 L229.42,310.14 L230.06,313.04 L230.69,315.87 L231.33,318.61 L231.97,321.25 L232.61,323.78 L233.25,326.19 L233.89,328.50 L234.52,330.71 L235.16,332.82 L235.80,334.84 L236.44,336.78 L237.08,338.63 L237.72,340.39 L238.35,342.07 L238.99,343.67 L239.63,345.20 L240.27,346.64 L240.91,348.01 L241.55,349.31 L242.18,350.53 L242.82,351.69 L243.46,352.77 L244.10,353.79 L244.74,354.74 L245.38,355.62 L246.02,356.44 L246.65,357.20 L247.29,357.89 L247.93,358.53 L248.57,359.10 L249.21,359.61 L249.85,360.06 L250.48,360.45 L251.12,360.78 L251.76,361.05 L252.40,361.26 L253.04,361.42 L253.68,361.52 L254.31,361.56 L254.95,361.54 L255.59,361.47 L256.23,361.33 L256.87,361.14 L257.51,360.89 L258.14,360.58 L258.78,360.22 L259.42,359.79 L260.06,359.31 L260.70,358.76 L261.34,358.15 L261.98,357.48 L262.61,356.75 L263.25,355.96 L263.89,355.10 L264.53,354.17 L265.17,353.18 L265.81,352.13 L266.44,351.00 L267.08,349.80 L267.72,348.54 L268.36,347.19 L269.00,345.78 L269.64,344.29 L270.27,342.72 L270.91,341.07 L271.55,339.34 L272.19,337.52 L272.83,335.62 L273.47,333.64 L274.10,331.56 L274.74,329.39 L275.38,327.12 L276.02,324.75 L276.66,322.27 L277.30,319.67 L277.94,316.97 L278.57,314.17 L279.21,311.30 L279.85,308.36 L280.49,305.39 L281.13,302.40 L281.77,299.44 L282.40,296.54 L283.04,293.75 L283.68,291.11 L284.32,288.68 L284.96,286.50 L285.60,284.63 L286.23,283.10 L286.87,281.95 L287.51,281.22 L288.15,280.93 L288.79,281.07 L289.43,281.65 L290.06,282.65 L290.70,284.05 L291.34,285.81 L291.98,287.89 L292.62,290.24 L293.26,292.81 L293.90,295.55 L294.53,298.42 L295.17,301.36 L295.81,304.34 L296.45,307.32 L297.09,310.27 L297.73,313.17 L298.36,316.00 L299.00,318.73 L299.64,321.37 L300.28,323.89 L300.92,326.30 L301.56,328.60 L302.19,330.81 L302.83,332.92 L303.47,334.93 L304.11,336.86 L304.75,338.71 L305.39,340.47 L306.02,342.15 L306.66,343.74 L307.30,345.26 L307.94,346.70 L308.58,348.07 L309.22,349.36 L309.86,350.58 L310.49,351.73 L311.13,352.82 L311.77,353.83 L312.41,354.78 L313.05,355.66 L313.69,356.47 L314.32,357.23 L314.96,357.92 L315.60,358.55 L316.24,359.11 L316.88,359.62 L317.52,360.07 L318.15,360.45 L318.79,360.78 L319.43,361.05 L320.07,361.26 L320.71,361.41 L321.35,361.51 L321.98,361.55 L322.62,361.53 L323.26,361.45 L323.90,361.31 L324.54,361.12 L325.18,360.86 L325.82,360.55 L326.45,360.18 L327.09,359.75 L327.73,359.26 L328.37,358.71 L329.01,358.10 L329.65,357.43 L330.28,356.70 L330.92,355.90 L331.56,355.04 L332.20,354.11 L332.84,353.11 L333.48,352.05 L334.11,350.92 L334.75,349.72 L335.39,348.45 L336.03,347.10 L336.67,345.68 L337.31,344.19 L337.94,342.61 L338.58,340.96 L339.22,339.22 L339.86,337.40 L340.50,335.50 L341.14,333.50 L341.78,331.42 L342.41,329.25 L343.05,326.97 L343.69,324.60 L344.33,322.10 L344.97,319.50 L345.61,316.79 L346.24,313.99 L346.88,311.11 L347.52,308.17 L348.16,305.20 L348.80,302.21 L349.44,299.25 L350.07,296.36 L350.71,293.58 L351.35,290.95 L351.99,288.54 L352.63,286.38 L353.27,284.52 L353.90,283.01 L354.54,281.89 L355.18,281.19 L355.82,280.92 L356.46,281.09 L357.10,281.70 L357.74,282.73 L358.37,284.15 L359.01,285.93 L359.65,288.03 L360.29,290.39 L360.93,292.97 L361.57,295.72 L362.20,298.60 L362.84,301.54 L363.48,304.53 L364.12,307.51 L364.76,310.46 L365.40,313.35 L366.03,316.17 L366.67,318.90 L367.31,321.53 L367.95,324.04 L368.59,326.45 L369.23,328.74 L369.86,330.94 L370.50,333.04 L371.14,335.06 L371.78,336.98 L372.42,338.82 L373.06,340.57 L373.70,342.25 L374.33,343.84 L374.97,345.35 L375.61,346.79 L376.25,348.15 L376.89,349.44 L377.53,350.66 L378.16,351.80 L378.80,352.88 L379.44,353.89 L380.08,354.83 L380.72,355.71 L381.36,356.52 L381.99,357.27 L382.63,357.96 L383.27,358.58 L383.91,359.15 L384.55,359.65 L385.19,360.09 L385.82,360.47 L386.46,360.80 L387.10,361.06 L387.74,361.27 L388.38,361.42 L389.02,361.51 L389.66,361.55 L390.29,361.52 L390.93,361.44 L391.57,361.30 L392.21,361.10 L392.85,360.85 L393.49,360.53 L394.12,360.16 L394.76,359.73 L395.40,359.23 L396.04,358.68 L396.68,358.06 L397.32,357.39 L397.95,356.65 L398.59,355.85 L399.23,354.98 L399.87,354.05 L400.51,353.05 L401.15,351.98 L401.78,350.85 L402.42,349.64 L403.06,348.37 L403.70,347.02 L404.34,345.59 L404.98,344.09 L405.62,342.51 L406.25,340.85 L406.89,339.11 L407.53,337.29 L408.17,335.38 L408.81,333.38 L409.45,331.29 L410.08,329.11 L410.72,326.83 L411.36,324.44 L412.00,321.94 L412.64,319.33 L413.28,316.62 L413.91,313.82 L414.55,310.93 L415.19,307.99 L415.83,305.01 L416.47,302.03 L417.11,299.07 L417.74,296.19 L418.38,293.41 L419.02,290.80 L419.66,288.39 L420.30,286.25 L420.94,284.42 L421.58,282.93 L422.21,281.84 L422.85,281.16 L423.49,280.92 L424.13,281.12 L424.77,281.75 L425.41,282.81 L426.04,284.25 L426.68,286.06 L427.32,288.17 L427.96,290.55 L428.60,293.14 L429.24,295.90 L429.87,298.78 L430.51,301.73 L431.15,304.72 L431.79,307.70 L432.43,310.64 L433.07,313.53 L433.70,316.35 L434.34,319.07 L434.98,321.69 L435.62,324.20 L436.26,326.60 L436.90,328.89 L437.54,331.08 L438.17,333.18 L438.81,335.19 L439.45,337.11 L440.09,338.94 L440.73,340.69 L441.37,342.36 L442.00,343.94 L442.64,345.45 L443.28,346.88 L443.92,348.24 L444.56,349.53 L445.20,350.74 L445.83,351.88 L446.47,352.96 L447.11,353.96 L447.75,354.90 L448.39,355.77 L449.03,356.58 L449.66,357.33 L450.30,358.01 L450.94,358.63 L451.58,359.19 L452.22,359.69 L452.86,360.13 L453.50,360.51 L454.13,360.83 L454.77,361.10 L455.41,361.30 L456.05,361.45 L456.69,361.53 L457.33,361.56 L457.96,361.54 L458.60,361.45 L459.24,361.31 L459.88,361.11 L460.52,360.85 L461.16,360.53 L461.79,360.16 L462.43,359.72 L463.07,359.22 L463.71,358.67 L464.35,358.05 L464.99,357.37 L465.62,356.63 L466.26,355.82 L466.90,354.95 L467.54,354.02 L468.18,353.02 L468.82,351.95 L469.46,350.81 L470.09,349.60 L470.73,348.32 L471.37,346.97 L472.01,345.54 L472.65,344.04 L473.29,342.45 L473.92,340.79 L474.56,339.05 L475.20,337.22 L475.84,335.30 L476.48,333.30 L477.12,331.21 L477.75,329.02 L478.39,326.74 L479.03,324.35 L479.67,321.84 L480.31,319.23 L480.95,316.51 L481.58,313.70 L482.22,310.82 L482.86,307.88 L483.50,304.90 L484.14,301.92 L484.78,298.97 L485.42,296.09 L486.05,293.33 L486.69,290.73 L487.33,288.34 L487.97,286.22 L488.61,284.41 L489.25,282.95 L489.88,281.89 L490.52,281.24 L491.16,281.03 L491.80,281.26 L492.44,281.93 L493.08,283.01 L493.71,284.48 L494.35,286.31 L494.99,288.45 L495.63,290.84 L496.27,293.46 L496.91,296.23 L497.54,299.12 L498.18,302.08 L498.82,305.07 L499.46,308.05 L500.10,311.00 L500.74,313.90 L501.38,316.71 L502.01,319.43 L502.65,322.05 L503.29,324.57 L503.93,326.96 L504.57,329.25 L505.21,331.45 L505.84,333.55 L506.48,335.56 L507.12,337.48 L507.76,339.32 L508.40,341.07 L509.04,342.74 L509.67,344.34 L510.31,345.85 L510.95,347.29 L511.59,348.65 L512.23,349.94 L512.87,351.16 L513.50,352.31 L514.14,353.39 L514.78,354.41 L515.42,355.36 L516.06,356.24 L516.70,357.06 L517.34,357.82 L517.97,358.51 L518.61,359.14 L519.25,359.72 L519.89,360.23 L520.53,360.68 L521.17,361.08 L521.80,361.41 L522.44,361.69 L523.08,361.91 L523.72,362.08 L524.36,362.18 L525.00,362.23 L525.63,362.23 L526.27,362.16 L526.91,362.04 L527.55,361.86 L528.19,361.62 L528.83,361.33 L529.46,360.98 L530.10,360.57 L530.74,360.10 L531.38,359.57 L532.02,358.98 L532.66,358.33 L533.30,357.62 L533.93,356.85 L534.57,356.01 L535.21,355.11 L535.85,354.15 L536.49,353.11 L537.13,352.01 L537.76,350.85 L538.40,349.61 L539.04,348.30 L539.68,346.91 L540.32,345.45 L540.96,343.92 L541.59,342.31 L542.23,340.61 L542.87,338.84 L543.51,336.98 L544.15,335.03 L544.79,333.00 L545.42,330.87 L546.06,328.65 L546.70,326.33 L547.34,323.89 L547.98,321.34 L548.62,318.70 L549.26,315.97 L549.89,313.17 L550.53,310.22 L551.17,305.66 L551.81,301.43 L552.45,297.62 L553.09,294.28 L553.72,291.51 L554.36,289.45 L555.00,287.73 L555.64,285.89 L556.28,284.12 L556.92,282.67 L557.55,281.45 L558.19,280.68 L558.83,280.83 L559.47,282.29 L560.11,289.49 L560.75,291.06 L561.38,292.65 L562.02,293.53 L562.66,294.51 L563.30,296.63 L563.94,299.53 L564.58,302.61 L565.22,305.84 L565.85,309.20 L566.49,312.64 L567.13,315.95 L567.77,319.22 L568.41,322.45 L569.05,325.61 L569.68,328.68 L570.32,331.67 L570.96,334.56 L571.60,337.34 L572.24,340.03 L572.88,342.63 L573.51,345.15 L574.15,347.59 L574.79,349.95 L575.43,352.24 L576.07,354.46 L576.71,356.61 L577.34,358.69 L577.98,360.71 L578.62,362.67 L579.26,364.56 L579.90,366.41 L580.54,368.19 L581.18,369.93 L581.81,371.61 L582.45,373.25 L583.09,374.84 L583.73,376.38 L584.37,377.88 L585.01,379.34 L585.64,380.76 L586.28,382.14 L586.92,383.48 L587.56,384.79 L588.20,386.07 L588.84,387.31 L589.47,388.53 L590.11,389.71 L590.75,390.87 L591.39,392.00 L592.03,393.10 L592.67,394.19 L593.30,395.25 L593.94,396.28 L594.58,397.30 L595.22,398.30 L595.86,399.28 L596.50,400.25 L597.14,401.20 L597.77,402.13 L598.41,403.06 L599.05,403.97 L599.69,404.87 L600.33,405.75 L600.97,406.63 L601.60,407.51 L602.24,408.37 L602.88,409.23 L603.52,410.08 L604.16,410.94 L604.80,411.78 L605.43,412.63 L606.07,413.47 L606.71,414.32 L607.35,415.16 L607.99,416.01 L608.63,416.86 L609.26,417.71 L609.90,418.57 L610.54,419.43 L611.18,420.31 L611.82,421.19 L612.46,422.07 L613.10,422.97 L613.73,423.88 L614.37,424.80 L615.01,425.74 L615.65,426.69 L616.29,427.65 L616.93,428.63 L617.56,429.63 L618.20,430.65 L618.84,431.68 L619.48,432.74 L620.12,433.82 L620.76,434.92 L621.39,436.05 L622.03,437.21 L622.67,438.39 L623.31,439.60 L623.95,440.84 L624.59,442.12 L625.22,443.43 L625.86,444.60 L626.50,444.60 L627.14,444.60 L627.38,444.60" stroke="#777" stroke-width="1.3" fill="none"/>
<rect x="90.5" y="8.5" width="99.8" height="49.5" fill="#fff" stroke="#4a4a4a" stroke-width="1.3"/>
<path d="M96.8,22.4H134.2" stroke="#777" stroke-width="1.4"/>
<path d="M96.8,41.8H133" stroke="#000" stroke-width="1.4" stroke-dasharray="1.2 1.9"/>
<path d="M163.58,205.50H165.63V194.05H164.40Q163.70,195.95 160.85,196.60V198.25Q162.20,198.15 163.58,197.35ZM163.58,467.50H165.63V456.05H164.40Q163.70,457.95 160.85,458.60V460.25Q162.20,460.15 163.58,459.35ZM71.17,132.97H73.23V121.52H72.00Q71.30,123.42 68.45,124.07V125.72Q69.80,125.62 71.17,124.82ZM59.43,110.25H61.48V98.80H60.25Q59.55,100.70 56.70,101.35V103.00Q58.05,102.90 59.43,102.10Z" fill="#000" stroke="#000" stroke-width="0.3"/>
<g font-family="Liberation Sans, sans-serif" fill="#000" stroke="#000" stroke-width="0.6"><text transform="translate(143.9,28.2) scale(1.0,1)" font-size="15.6">CoM</text><text transform="translate(144.3,49.1) scale(1.0,1)" font-size="15.6">ZMP</text><text x="84.50" y="205.5" font-size="16" text-anchor="middle">0</text><text x="84.50" y="467.5" font-size="16" text-anchor="middle">0</text><text x="244.10" y="205.5" font-size="16" text-anchor="middle">2</text><text x="244.10" y="467.5" font-size="16" text-anchor="middle">2</text><text x="323.90" y="205.5" font-size="16" text-anchor="middle">3</text><text x="323.90" y="467.5" font-size="16" text-anchor="middle">3</text><text x="403.70" y="205.5" font-size="16" text-anchor="middle">4</text><text x="403.70" y="467.5" font-size="16" text-anchor="middle">4</text><text x="483.50" y="205.5" font-size="16" text-anchor="middle">5</text><text x="483.50" y="467.5" font-size="16" text-anchor="middle">5</text><text x="563.30" y="205.5" font-size="16" text-anchor="middle">6</text><text x="563.30" y="467.5" font-size="16" text-anchor="middle">6</text><text x="73.5" y="178.40" font-size="16" text-anchor="end">0</text><text x="73.5" y="155.69" font-size="16" text-anchor="end">0.05</text><text x="54.1" y="132.97" font-size="16">0.</text><text x="42.35" y="110.25" font-size="16">0.</text><text x="64.6" y="110.25" font-size="16">5</text><text x="73.5" y="87.54" font-size="16" text-anchor="end">0.2</text><text x="73.5" y="64.82" font-size="16" text-anchor="end">0.25</text><text x="73.5" y="42.11" font-size="16" text-anchor="end">0.3</text><text x="73.5" y="19.39" font-size="16" text-anchor="end">0.35</text><text x="73.5" y="444.20" font-size="16" text-anchor="end">0</text><text x="73.5" y="407.73" font-size="16" text-anchor="end">0.02</text><text x="73.5" y="371.26" font-size="16" text-anchor="end">0.04</text><text x="73.5" y="334.79" font-size="16" text-anchor="end">0.06</text><text x="73.5" y="298.32" font-size="16" text-anchor="end">0.08</text><text transform="translate(355.2,232) scale(1.0,1)" font-size="16" text-anchor="middle">Time (s)</text><text transform="translate(355.2,494) scale(1.0,1)" font-size="16" text-anchor="middle">Time (s)</text><text transform="translate(17.6,91.5) rotate(-90) scale(0.965,1)" font-size="16" text-anchor="middle">CoM<tspan font-size="12.5" stroke-width="0.2" dy="7.5">x</tspan><tspan dy="-7.5"> &amp; ZMP</tspan><tspan font-size="12.5" stroke-width="0.2" dy="7.5">x</tspan><tspan dy="-7.5"> (m)</tspan></text><text transform="translate(13.8,354.8) rotate(-90) scale(0.965,1)" font-size="16" text-anchor="middle">v<tspan font-size="12.5" stroke-width="0.2" dy="7.5">x</tspan><tspan dy="-7.5"> (m/s)</tspan></text></g>
</svg></body></html>
